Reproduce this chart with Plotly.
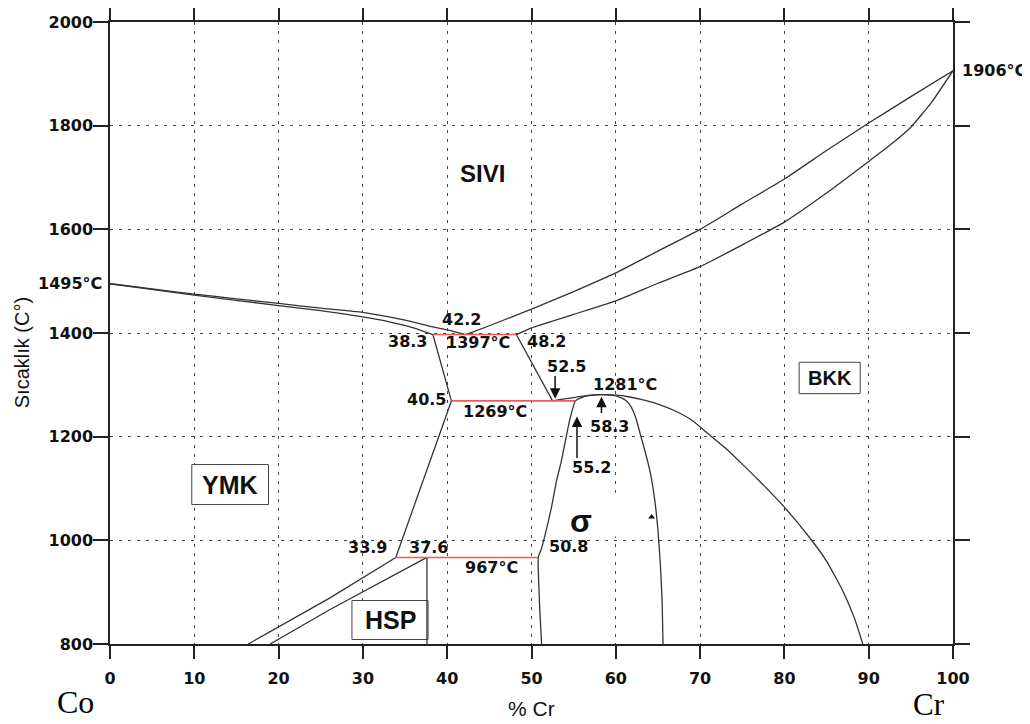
import plotly.graph_objects as go

# ---------------- data ----------------
liq_left_x = [0, 5, 10, 15, 20, 25, 30, 35, 38, 40, 42.2]
liq_left_T = [1495, 1485, 1475, 1466, 1457, 1448, 1440, 1425, 1413, 1406, 1397]

sol_left_x = [0, 10, 20, 25, 30, 33, 36, 38.3]
sol_left_T = [1495, 1473, 1453, 1443, 1431, 1422, 1410, 1397]

liq_right_x = [42.2, 45, 50, 55, 60, 65, 70, 75, 80, 85, 90, 95, 100]
liq_right_T = [1397, 1414, 1446, 1480, 1516, 1558, 1600, 1649, 1697, 1752, 1805, 1856, 1906]

sol_right_x = [48.2, 50, 55, 60, 65, 70, 75, 80, 85, 90, 92.5, 95, 97.5, 100]
sol_right_T = [1397, 1410, 1436, 1462, 1496, 1528, 1570, 1614, 1670, 1731, 1762, 1797, 1846, 1906]

ymk_x = [38.3, 40.5, 33.9]
ymk_T = [1397, 1269, 967]

bkk_edge_x = [48.2, 52.5]
bkk_edge_T = [1397, 1269]

bkk_solvus_x = [52.5, 53.5, 55.2, 56.5, 58.3, 60, 61.5, 63, 65, 67, 69, 71, 73, 75, 77, 80, 83, 85, 87, 88.3, 89.3]
bkk_solvus_T = [1269, 1272, 1276, 1279, 1281, 1280, 1277, 1272, 1263, 1250, 1232, 1205, 1178, 1147, 1115, 1064, 1005, 960, 900, 850, 800]

sigma_x = [51.2, 51.0, 50.9, 50.8, 51.2, 51.9, 52.4, 53.0, 53.5, 54.0, 54.5, 55.2, 56.0, 57.0, 58.3,
           59.5, 60.5, 61.2, 61.8, 62.4, 62.9, 63.5, 64.1, 64.6, 65.0, 65.3, 65.5, 65.6]
sigma_T = [800, 860, 900, 967, 985, 1030, 1066, 1117, 1150, 1190, 1230, 1269, 1276, 1279.5, 1281,
           1280, 1276, 1270, 1258, 1235, 1205, 1170, 1130, 1080, 1020, 950, 880, 800]

hsp_upper_x = [16.4, 26.1, 33.9]
hsp_upper_T = [800, 889, 967]
hsp_lower_x = [19.0, 26.1, 37.6]
hsp_lower_T = [800, 866.6, 967]
hsp_vert_x = [37.6, 37.6]
hsp_vert_T = [967, 800]

# invariant (red) lines: x start, x end, temperature
iso_x0 = [38.3, 40.5, 33.9]
iso_x1 = [48.2, 55.2, 50.8]
iso_T = [1397, 1269, 967]

x_ticks = [0, 10, 20, 30, 40, 50, 60, 70, 80, 90, 100]
y_ticks = [800, 1000, 1200, 1400, 1600, 1800, 2000]

# value labels: text, x, T
val_text = ["42.2", "38.3", "1397°C", "48.2", "52.5", "40.5", "1269°C", "1281°C",
            "58.3", "55.2", "33.9", "37.6", "967°C", "50.8"]
val_x = [41.66, 35.33, 43.65, 51.76, 54.13, 37.5, 45.72, 61.07, 59.26, 57.1, 30.58, 37.8, 45.23, 54.33]
val_T = [1426, 1384, 1381, 1384, 1336, 1272, 1249, 1300, 1220, 1140, 987, 987, 947, 988.6]

# arrows: x, tail T, head T
arrow_x = [52.8, 58.3, 55.4]
arrow_tail = [1320, 1243, 1156]
arrow_head = [1273, 1277, 1239]

# boxed phase labels: text, x0, x1, T0, T1, size
box_text = ["YMK", "HSP", "BKK"]
box_x0 = [9.70, 28.7, 81.75]
box_x1 = [18.80, 37.73, 88.99]
box_T0 = [1069, 808.7, 1283]
box_T1 = [1146.2, 883.9, 1343.5]
box_size = [25, 25, 20]

# small stray arrow-head mark at the edge of the sigma label patch
mark_x = [64.25]
mark_T = [1045]

LINE = "#333333"
RED = "#f05a5a"
BOLD = "DejaVu Sans"

fig = go.Figure()

def curve(x, y, shape="spline", color=LINE, width=1.3, smoothing=0.5):
    fig.add_trace(go.Scatter(x=x, y=y, mode="lines", hoverinfo="skip",
                             line=dict(color=color, width=width, shape=shape, smoothing=smoothing)))

curve(liq_left_x, liq_left_T)
curve(sol_left_x, sol_left_T)
curve(liq_right_x, liq_right_T)
curve(sol_right_x, sol_right_T, smoothing=0.4)
curve(ymk_x, ymk_T, shape="linear")
curve(bkk_edge_x, bkk_edge_T, shape="linear")
curve(bkk_solvus_x, bkk_solvus_T)
curve(sigma_x, sigma_T, smoothing=0.4)
curve(hsp_upper_x, hsp_upper_T, shape="linear")
curve(hsp_lower_x, hsp_lower_T, shape="linear")
curve(hsp_vert_x, hsp_vert_T, shape="linear")
for a, b, t in zip(iso_x0, iso_x1, iso_T):
    curve([a, b], [t, t], shape="linear", color=RED, width=1.6)

fig.add_trace(go.Scatter(x=mark_x, y=mark_T, mode="markers", hoverinfo="skip",
                         marker=dict(symbol="triangle-up", size=6, color="#111111")))

shapes = []
# white patch behind sigma label
shapes.append(dict(type="rect", xref="x", yref="y", x0=53.1, x1=64.1, y0=1007, y1=1092,
                   fillcolor="white", line=dict(width=0), layer="between"))
for x0, x1, t0, t1 in zip(box_x0, box_x1, box_T0, box_T1):
    shapes.append(dict(type="rect", xref="x", yref="y", x0=x0, x1=x1, y0=t0, y1=t1,
                       fillcolor="white", line=dict(color="#444444", width=1), layer="between"))

ann = []
for t, x, y in zip(val_text, val_x, val_T):
    ann.append(dict(x=x, y=y, text=t, showarrow=False, xanchor="center", yanchor="middle",
                    font=dict(family=BOLD, size=16, color="#111111", weight="bold")))
for x, t0, t1 in zip(arrow_x, arrow_tail, arrow_head):
    ann.append(dict(x=x, y=t1, ax=x, ay=t0, axref="x", ayref="y", text="", showarrow=True,
                    arrowhead=2, arrowsize=1.4, arrowwidth=1.5, arrowcolor="#111111"))
for t, x0, x1, t0, t1, s in zip(box_text, box_x0, box_x1, box_T0, box_T1, box_size):
    ann.append(dict(x=(x0 + x1) / 2, y=(t0 + t1) / 2, text=t, showarrow=False,
                    xanchor="center", yanchor="middle",
                    font=dict(family="Liberation Sans", size=s, color="#111111", weight="bold")))
ann.append(dict(x=44.24, y=1707, text="SIVI", showarrow=False, xanchor="center", yanchor="middle",
                font=dict(family="Liberation Sans", size=24, color="#111111", weight="bold")))
ann.append(dict(x=55.9, y=1037, text="σ", showarrow=False, xanchor="center", yanchor="middle",
                font=dict(family="Liberation Sans", size=32, color="#111111", weight="bold")))
ann.append(dict(x=0, y=1495, text="1495°C", showarrow=False, xanchor="right", yanchor="middle",
                xshift=-6, font=dict(family=BOLD, size=16, color="#111111", weight="bold")))
ann.append(dict(x=100, y=1906, text="1906°C", showarrow=False, xanchor="left", yanchor="middle",
                xshift=7, font=dict(family=BOLD, size=16, color="#111111", weight="bold")))
ann.append(dict(xref="paper", yref="paper", x=-0.104, y=0.468, text="Sıcaklık (C°)",
                textangle=-90, showarrow=False, xanchor="center", yanchor="middle",
                font=dict(family="Liberation Sans", size=20, color="#111111")))
ann.append(dict(x=50, yref="paper", y=-0.1045, text="% Cr", showarrow=False,
                xanchor="center", yanchor="middle",
                font=dict(family="Liberation Sans", size=21, color="#111111")))
ann.append(dict(xref="paper", yref="paper", x=-0.041, y=-0.093, text="Co", showarrow=False,
                xanchor="center", yanchor="middle",
                font=dict(family="Liberation Serif", size=32, color="#000000")))
ann.append(dict(xref="paper", yref="paper", x=0.971, y=-0.097, text="Cr", showarrow=False,
                xanchor="center", yanchor="middle",
                font=dict(family="Liberation Serif", size=31, color="#000000")))

axis_common = dict(showline=True, linecolor="#222222", linewidth=1.5, mirror="ticks",
                   ticks="outside", tickcolor="#222222", tickwidth=1.5,
                   showgrid=True, gridcolor="#444444", gridwidth=1, griddash="3px,6px",
                   zeroline=False, automargin=False,
                   tickfont=dict(family=BOLD, size=16, color="#111111", weight="bold"))

# the page body has an 8px margin, so the figure is 8px smaller on each axis
fig.update_layout(
    width=1022, height=716,
    margin=dict(l=102, r=77, t=14, b=80),
    paper_bgcolor="white", plot_bgcolor="white",
    showlegend=False,
    shapes=shapes, annotations=ann,
    xaxis=dict(range=[0, 100], tickvals=x_ticks, ticklen=13, ticklabelstandoff=6, **axis_common),
    yaxis=dict(range=[800, 2000], tickvals=y_ticks, ticklen=15, ticklabelstandoff=-3, **axis_common),
)

fig.write_html("out.html")
